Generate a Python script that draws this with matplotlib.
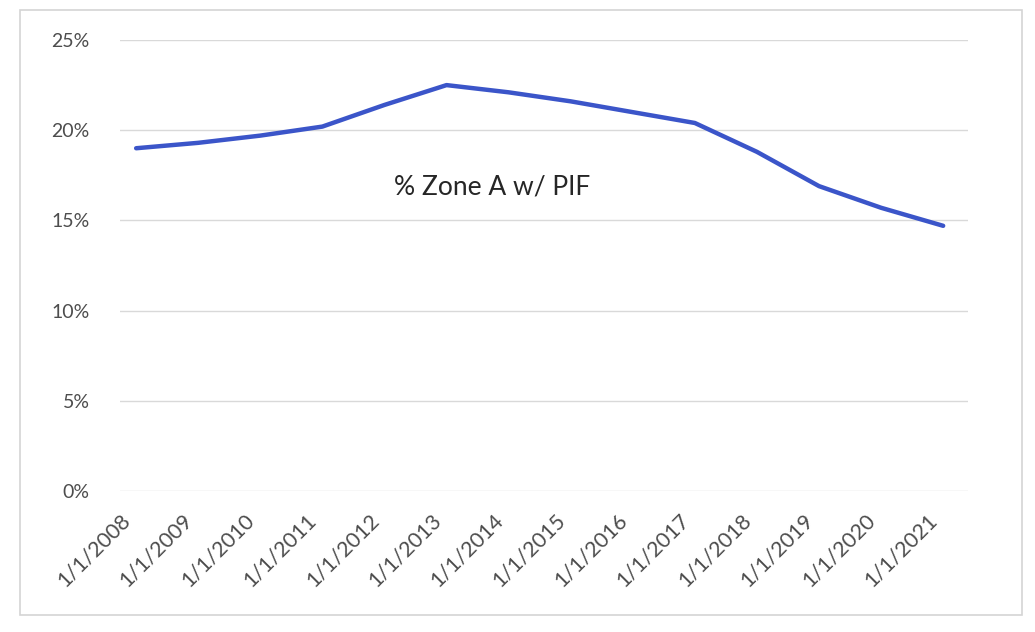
# Line chart: share of Zone A with PIF, 2008-2021
import matplotlib.pyplot as plt
import matplotlib.transforms as mtransforms
from matplotlib.patches import Rectangle
from matplotlib.ticker import FuncFormatter

years = ['1/1/2008', '1/1/2009', '1/1/2010', '1/1/2011', '1/1/2012', '1/1/2013', '1/1/2014',
         '1/1/2015', '1/1/2016', '1/1/2017', '1/1/2018', '1/1/2019', '1/1/2020', '1/1/2021']
pct_zone_a = [0.190, 0.193, 0.197, 0.202, 0.214, 0.225, 0.221,
              0.216, 0.210, 0.204, 0.188, 0.169, 0.157, 0.147]
y_ticks = [0, 0.05, 0.10, 0.15, 0.20, 0.25]
label_text = '% Zone A w/ PIF'

plt.rcParams['font.family'] = ['Lato', 'DejaVu Sans']

fig = plt.figure(figsize=(10.35, 6.32), dpi=100, facecolor='white')

# light chart frame like the spreadsheet chart object
fig.patches.append(Rectangle((20 / 1035, 1 - 615 / 632), 1002 / 1035, 605 / 632,
                             transform=fig.transFigure, fill=False,
                             edgecolor='#d4d4d4', linewidth=1.2))

ax = fig.add_axes([120 / 1035, 1 - 491 / 632, 848 / 1035, 451 / 632])
ax.set_facecolor('white')

x = list(range(len(years)))
ax.plot(x, pct_zone_a, color='#3b55c9', linewidth=3.2,
        solid_joinstyle='round', solid_capstyle='round', zorder=3)

ax.set_ylim(0, 0.25)
ax.set_xlim(-0.26, len(years) - 1 + 0.40)
ax.set_yticks(y_ticks)
ax.yaxis.set_major_formatter(FuncFormatter(lambda v, p: f'{v * 100:.0f}%'))
ax.grid(axis='y', color='#d9d9d9', linewidth=1)
ax.set_axisbelow(True)

ax.tick_params(axis='x', length=0, pad=8, labelsize=15.5, labelcolor='#4d4d4d')
ax.tick_params(axis='y', length=0, pad=22, labelsize=14, labelcolor='#4d4d4d')

ax.set_xticks(x)
ax.set_xticklabels(years, rotation=45, ha='right', va='top', rotation_mode='anchor')
# nudge the slanted labels left/down like the original
offset = mtransforms.ScaledTranslation(-16 / 100, -8 / 100, fig.dpi_scale_trans)
for lbl in ax.get_xticklabels():
    lbl.set_transform(lbl.get_transform() + offset)

for spine in ax.spines.values():
    spine.set_visible(False)

ax.text(0.439, 0.674, label_text, transform=ax.transAxes, ha='center', va='center',
        fontsize=19, color='#262626')

plt.savefig('out.png', dpi=100, facecolor='white')
plt.close()
